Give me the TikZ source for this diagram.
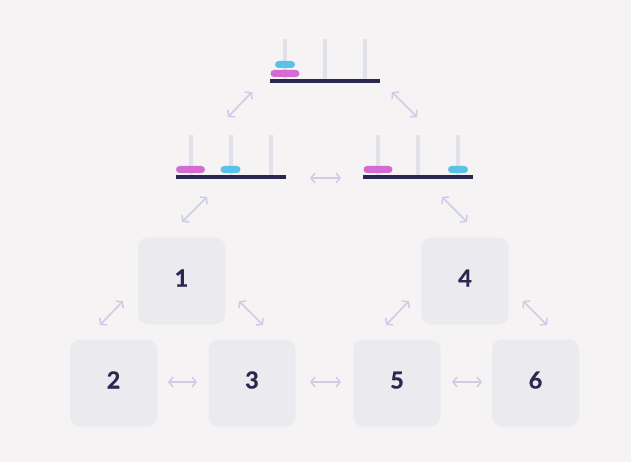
\documentclass[tikz,border=0pt]{standalone}
\usepackage{fontspec}
\setmainfont{Lato}[BoldFeatures={FakeBold=0.6}]
\usetikzlibrary{arrows.meta}
\definecolor{bgc}{HTML}{F5F3F4}
\definecolor{boxc}{HTML}{EBEAEF}
\definecolor{navyc}{HTML}{2A2850}
\definecolor{pegc}{HTML}{E2E0EB}
\definecolor{arrc}{HTML}{D0CCE4}
\definecolor{diskpink}{HTML}{D46BD2}
\definecolor{diskblue}{HTML}{5BC2E7}
\tikzset{
  statebox/.style={fill=boxc, rounded corners=10pt, minimum width=87pt, minimum height=87pt,
    inner sep=0pt, text=navyc, font=\fontsize{23.5}{23.5}\selectfont\bfseries,
    text height=17pt, text depth=6pt},
  conn/.style={draw=arrc, line width=1.6pt,
    {Straight Barb[length=4pt,width=10pt]}-{Straight Barb[length=4pt,width=10pt]}},
  pegline/.style={draw=pegc, line width=4pt},
  baseline/.style={draw=navyc, line width=3.5pt},
}
\newcommand{\hanoibase}[2]{%
  \draw[pegline] (#1+15,#2-42) -- (#1+15,#2-2);
  \draw[pegline] (#1+55,#2-42) -- (#1+55,#2-2);
  \draw[pegline] (#1+95,#2-42) -- (#1+95,#2-2);
  \draw[baseline] (#1,#2) -- (#1+110,#2);
}
\newcommand{\pinkdisk}[2]{\fill[diskpink, rounded corners=3.5pt] (#1-14.5,#2-3.5) rectangle (#1+14.5,#2+3.5);}
\newcommand{\bluedisk}[2]{\fill[diskblue, rounded corners=3.5pt] (#1-10,#2-3.5) rectangle (#1+10,#2+3.5);}
\begin{document}
\begin{tikzpicture}[x=1pt,y=-1pt]
\fill[bgc] (0,0) rectangle (631,462);
\useasboundingbox (0,0) rectangle (631,462);
% towers
\hanoibase{270}{81}
\pinkdisk{285}{73.5}
\bluedisk{285}{64.5}
\hanoibase{175.5}{177}
\pinkdisk{190.5}{169.5}
\bluedisk{230.5}{169.5}
\hanoibase{363}{177}
\pinkdisk{378}{169.5}
\bluedisk{458}{169.5}
% boxes
\node[statebox] (b1) at (181.5,281) {1};
\node[statebox] (b2) at (113.5,383) {2};
\node[statebox] (b3) at (252,383) {3};
\node[statebox] (b4) at (465,281) {4};
\node[statebox] (b5) at (397,383) {5};
\node[statebox] (b6) at (535.5,383) {6};
% arrow end points
\coordinate (t1a) at (228,117); \coordinate (t1b) at (252,92);
\coordinate (t2a) at (392,92);  \coordinate (t2b) at (417,117);
\coordinate (mma) at (310,178); \coordinate (mmb) at (341,178);
\coordinate (m1a) at (182,222); \coordinate (m1b) at (207,197);
\coordinate (m2a) at (442,197); \coordinate (m2b) at (467,222);
\coordinate (c12a) at (100,325); \coordinate (c12b) at (123,301);
\coordinate (c13a) at (239,301); \coordinate (c13b) at (263,325);
\coordinate (c23a) at (168,382); \coordinate (c23b) at (197,382);
\coordinate (c35a) at (310,382); \coordinate (c35b) at (341,382);
\coordinate (c45a) at (386,325); \coordinate (c45b) at (409,301);
\coordinate (c46a) at (523,301); \coordinate (c46b) at (547,325);
\coordinate (c56a) at (452,382); \coordinate (c56b) at (482,382);
\draw[conn] (t1a) -- (t1b);
\draw[conn] (t2a) -- (t2b);
\draw[conn] (mma) -- (mmb);
\draw[conn] (m1a) -- (m1b);
\draw[conn] (m2a) -- (m2b);
\draw[conn] (c12a) -- (c12b);
\draw[conn] (c13a) -- (c13b);
\draw[conn] (c23a) -- (c23b);
\draw[conn] (c35a) -- (c35b);
\draw[conn] (c45a) -- (c45b);
\draw[conn] (c46a) -- (c46b);
\draw[conn] (c56a) -- (c56b);
\end{tikzpicture}
\end{document}
